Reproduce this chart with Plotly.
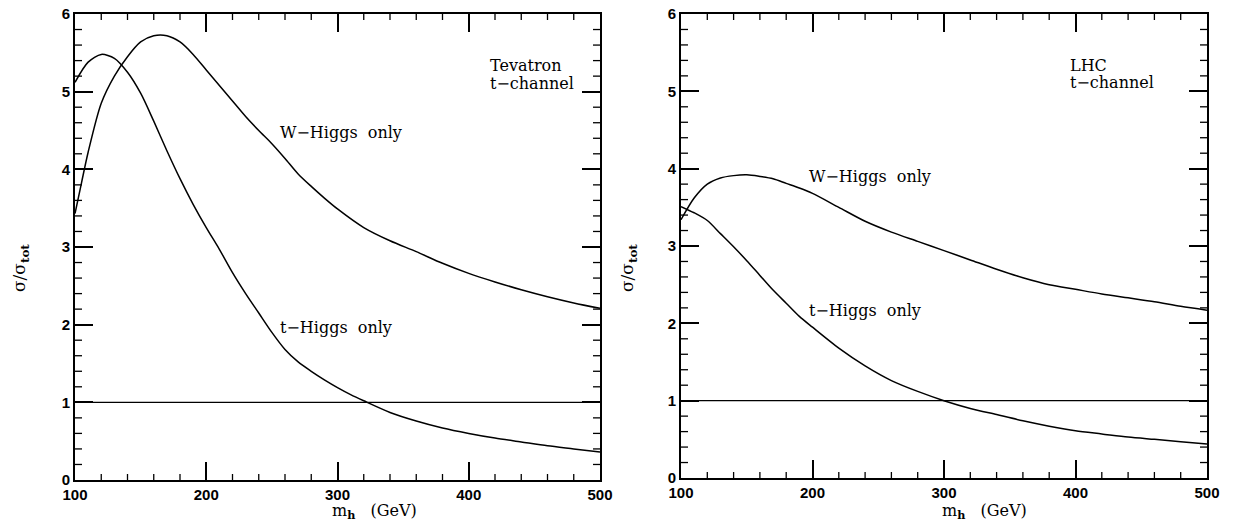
import plotly.graph_objects as go

# Tevatron panel
tev_t_m = [100, 110, 120, 130, 140, 150, 160, 170, 180, 190, 200, 210, 220, 230, 240, 250, 260, 270,
           280, 290, 300, 310, 320, 340, 360, 380, 400, 420, 440, 460, 480, 500]
tev_t_v = [5.12, 5.38, 5.48, 5.43, 5.25, 4.98, 4.62, 4.24, 3.88, 3.55, 3.25, 2.97, 2.67, 2.40, 2.15, 1.90,
           1.68, 1.52, 1.40, 1.29, 1.19, 1.10, 1.02, 0.87, 0.76, 0.67, 0.60, 0.54, 0.49, 0.44, 0.40, 0.36]
tev_w_m = [100, 105, 110, 120, 130, 140, 150, 160, 170, 180, 190, 200, 210, 220, 230, 240, 250, 260, 270,
           280, 290, 300, 320, 340, 360, 380, 400, 420, 440, 460, 480, 500]
tev_w_v = [3.43, 3.83, 4.22, 4.85, 5.20, 5.45, 5.64, 5.72, 5.72, 5.64, 5.48, 5.28, 5.08, 4.88, 4.68, 4.50,
           4.33, 4.14, 3.94, 3.78, 3.63, 3.49, 3.25, 3.08, 2.94, 2.79, 2.66, 2.55, 2.45, 2.36, 2.28, 2.21]

# LHC panel
lhc_t_m = [100, 110, 120, 130, 140, 150, 160, 170, 180, 190, 200, 220, 240, 260, 280, 300, 320, 340, 360,
           380, 400, 420, 440, 460, 480, 500]
lhc_t_v = [3.51, 3.43, 3.33, 3.16, 2.99, 2.81, 2.62, 2.43, 2.26, 2.09, 1.95, 1.68, 1.45, 1.26, 1.12, 1.00,
           0.90, 0.82, 0.74, 0.67, 0.61, 0.57, 0.53, 0.50, 0.47, 0.44]
lhc_w_m = [100, 110, 120, 130, 140, 150, 160, 170, 180, 190, 200, 220, 240, 260, 280, 300, 320, 340, 360,
           380, 400, 420, 440, 460, 480, 500]
lhc_w_v = [3.34, 3.62, 3.80, 3.88, 3.91, 3.92, 3.90, 3.87, 3.81, 3.75, 3.68, 3.50, 3.32, 3.18, 3.06, 2.94,
           2.82, 2.70, 2.59, 2.50, 2.44, 2.38, 2.33, 2.28, 2.22, 2.17]

ref_m = [100, 500]
ref_v = [1, 1]

# tick values and labels
x_major = [100, 200, 300, 400, 500]
x_labels = ["100", "200", "300", "400", "500"]
y_major = [0, 1, 2, 3, 4, 5, 6]
y_labels = ["0", "1", "2", "3", "4", "5", "6"]
x_minor = [m for m in range(100, 501, 20) if m % 100 != 0]
y_minor = [k / 5 for k in range(0, 31) if k % 5 != 0]

X_RANGE = [100, 500]
Y_RANGE = [0, 6]
W, H = 1236, 521
PLOT_W_PX = 525.0
PLOT_H_PX = 466.0

fig = go.Figure()

shapes = []
for xa, ya, tm, tv, wm, wv in [("x", "y", tev_t_m, tev_t_v, tev_w_m, tev_w_v),
                               ("x2", "y2", lhc_t_m, lhc_t_v, lhc_w_m, lhc_w_v)]:
    fig.add_trace(go.Scatter(x=tm, y=tv, mode="lines",
                             line=dict(color="black", width=1.5, shape="spline", smoothing=0.8),
                             xaxis=xa, yaxis=ya, showlegend=False, hoverinfo="skip"))
    fig.add_trace(go.Scatter(x=wm, y=wv, mode="lines",
                             line=dict(color="black", width=1.5, shape="spline", smoothing=0.8),
                             xaxis=xa, yaxis=ya, showlegend=False, hoverinfo="skip"))
    fig.add_trace(go.Scatter(x=ref_m, y=ref_v, mode="lines", line=dict(color="black", width=1.2),
                             xaxis=xa, yaxis=ya, showlegend=False, hoverinfo="skip"))

    # minor inside tick marks on all four sides, as shapes built from the tick value lists
    for m in x_minor:
        for y0, y1 in [(0, 6 / PLOT_H_PX), (1, 1 - 6 / PLOT_H_PX)]:
            shapes.append(dict(type="line", xref=xa, yref=ya + " domain", x0=m, x1=m,
                               y0=y0, y1=y1, line=dict(color="black", width=1.3)))
    for v in y_minor:
        for x0, x1 in [(0, 7 / PLOT_W_PX), (1, 1 - 7 / PLOT_W_PX)]:
            shapes.append(dict(type="line", xref=xa + " domain", yref=ya, x0=x0, x1=x1,
                               y0=v, y1=v, line=dict(color="black", width=1.3)))

tickfont = dict(family="Liberation Sans", size=15, color="black")

def xax(dom, anchor):
    return dict(domain=dom, range=X_RANGE, tickmode="array", tickvals=x_major,
                ticktext=["<b>%s</b>" % t for t in x_labels],
                ticks="inside", ticklen=18, tickwidth=2, tickcolor="black",
                showline=True, linecolor="black", linewidth=1.6, mirror="allticks",
                showgrid=False, tickfont=tickfont, anchor=anchor)

def yax(dom, anchor):
    return dict(domain=dom, range=Y_RANGE, tickmode="array", tickvals=y_major,
                ticktext=["<b>%s</b>" % t for t in y_labels],
                ticks="inside", ticklen=18, tickwidth=2, tickcolor="black",
                showline=True, linecolor="black", linewidth=1.6, mirror="allticks",
                showgrid=False, tickfont=tickfont, anchor=anchor)

fig.update_layout(
    width=W, height=H, margin=dict(l=0, r=0, t=0, b=0, autoexpand=False),
    plot_bgcolor="white", paper_bgcolor="white",
    xaxis=xax([75 / W, 600 / W], "y"),
    yaxis=yax([41 / H, 507 / H], "x"),
    xaxis2=xax([681 / W, 1207 / W], "y2"),
    yaxis2=yax([43 / H, 507 / H], "x2"),
    shapes=shapes,
)

serif = dict(family="DejaVu Serif", size=16, color="black")
notes = [
    ("x", "y", 415, 5.34, "Tevatron"),
    ("x", "y", 415, 5.11, "t\u2212channel"),
    ("x", "y", 255, 4.48, "W\u2212Higgs  only"),
    ("x", "y", 255, 1.97, "t\u2212Higgs  only"),
    ("x2", "y2", 394, 5.34, "LHC"),
    ("x2", "y2", 394, 5.11, "t\u2212channel"),
    ("x2", "y2", 196, 3.90, "W\u2212Higgs  only"),
    ("x2", "y2", 196, 2.17, "t\u2212Higgs  only"),
]
for xr, yr, xv, yv, txt in notes:
    fig.add_annotation(x=xv, y=yv, xref=xr, yref=yr, text=txt, showarrow=False,
                       xanchor="left", yanchor="middle", font=serif)

for cx, cy in [(375, 511), (984, 511)]:
    fig.add_annotation(x=cx / W, y=1 - cy / H, xref="paper", yref="paper",
                       text="m<sub><b>h</b></sub>   (GeV)", showarrow=False,
                       xanchor="center", yanchor="middle",
                       font=dict(family="DejaVu Serif", size=16, color="black"))
for cx, cy in [(20, 268), (628, 268)]:
    fig.add_annotation(x=cx / W, y=1 - cy / H, xref="paper", yref="paper",
                       text="\u03c3/\u03c3<sub><b>tot</b></sub>", showarrow=False, textangle=-90,
                       xanchor="center", yanchor="middle",
                       font=dict(family="DejaVu Serif", size=17, color="black"))

fig.write_html("out.html")
